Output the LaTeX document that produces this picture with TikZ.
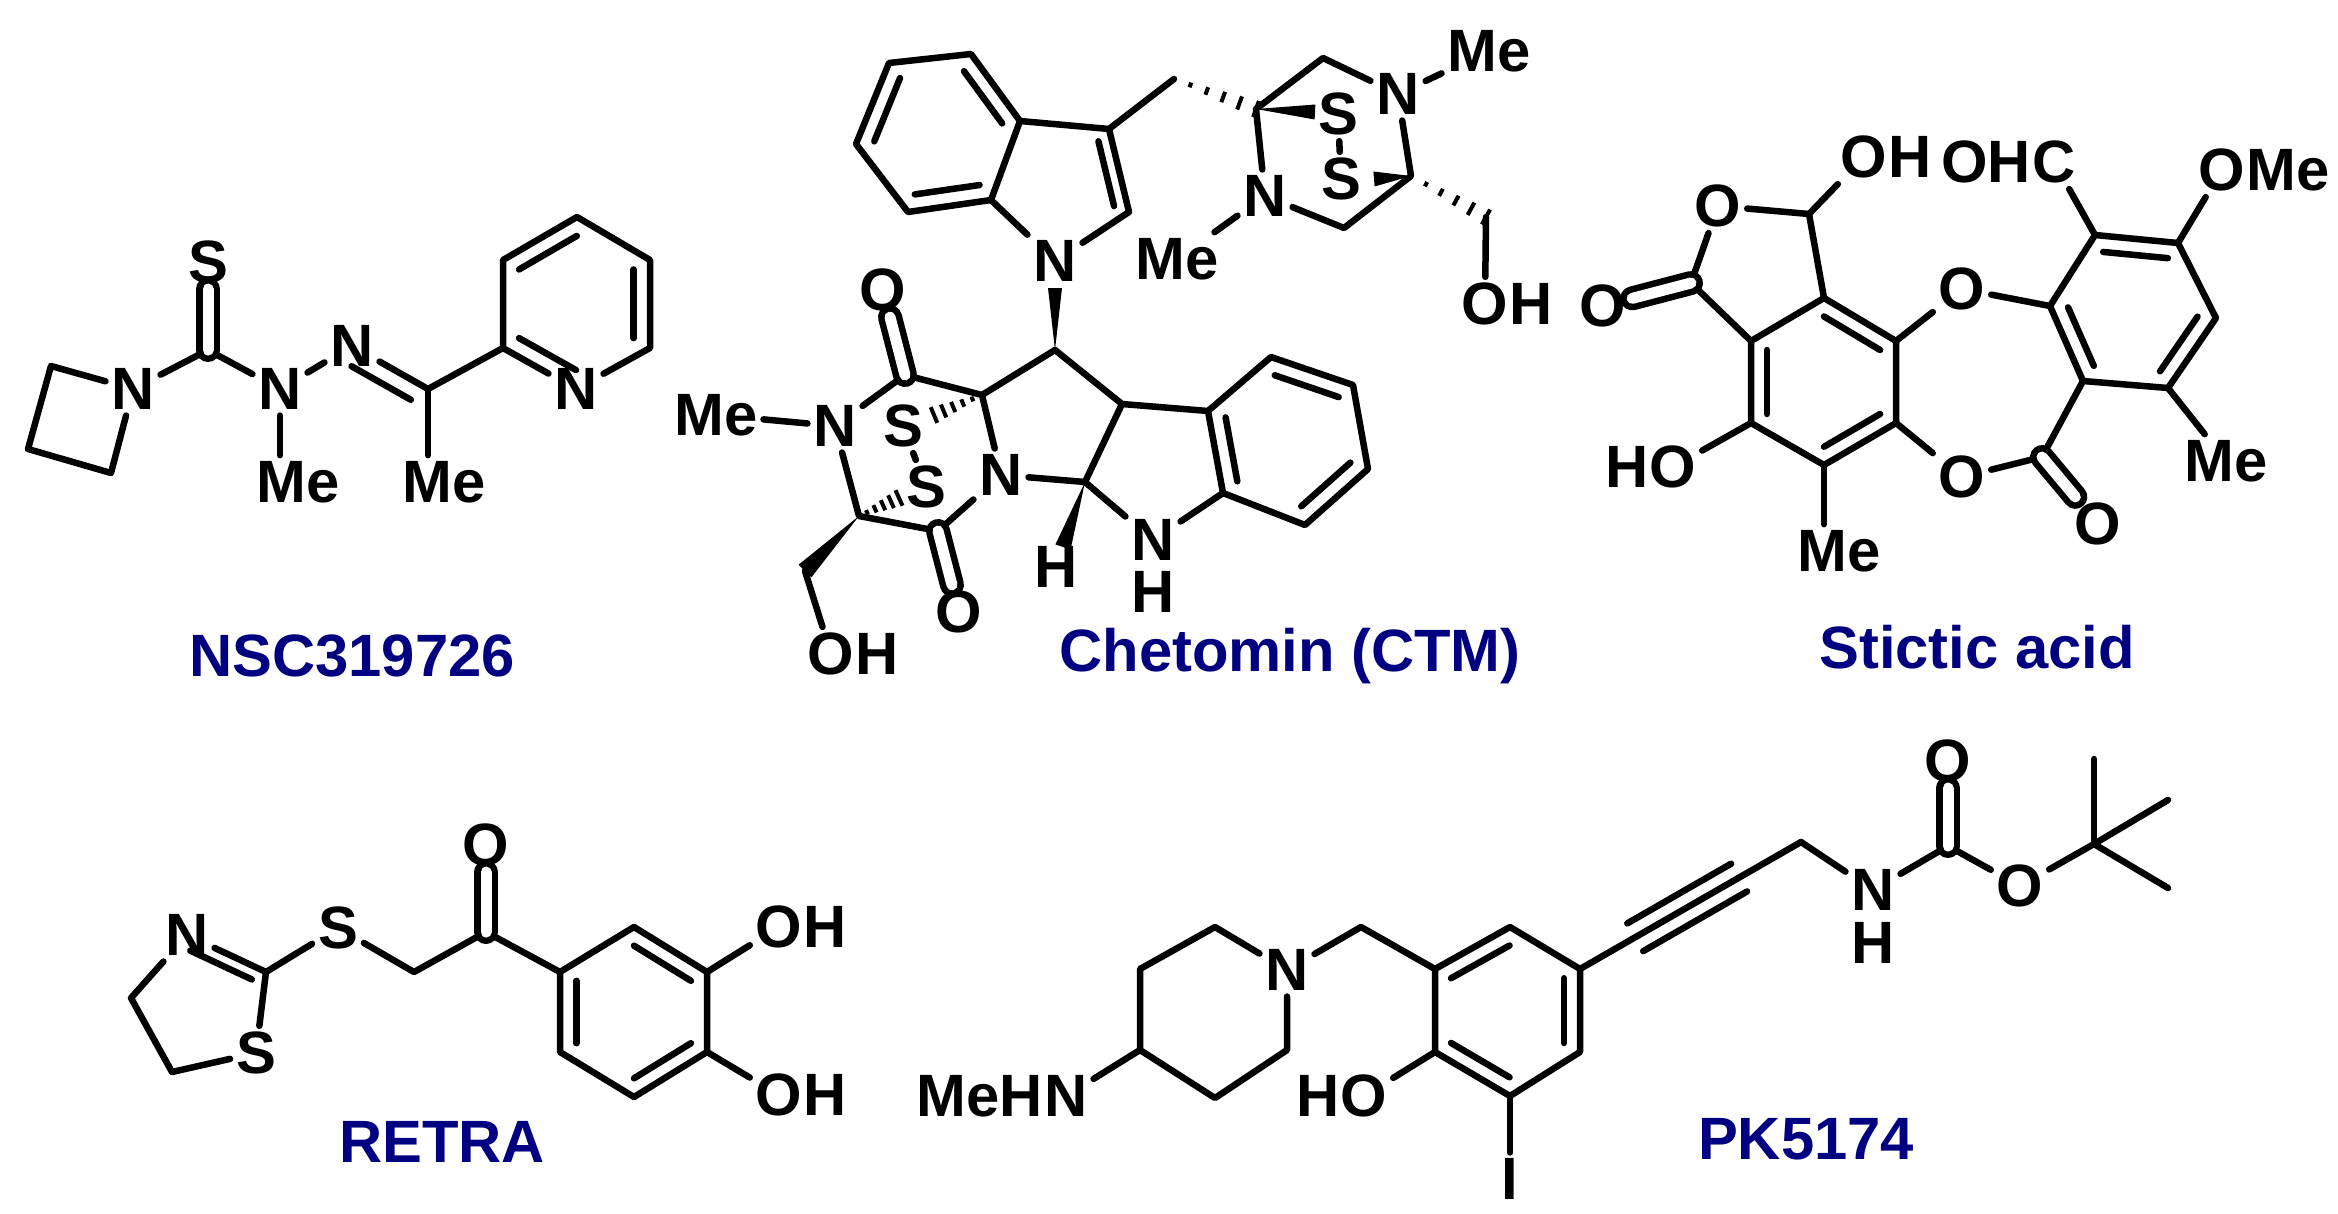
\documentclass[tikz,border=0pt]{standalone}
\usepackage{fontspec}
\setmainfont{Liberation Sans}
\usetikzlibrary{calc}
\definecolor{navy}{RGB}{0,0,128}
\tikzset{
 bond/.style={line width=0.65mm, line cap=round, line join=round},
 dbl/.style={bond, double, double distance=1.1mm},
 atom/.style={font=\fontsize{17}{19}\selectfont\bfseries, inner sep=1.5pt},
 afix/.style={font=\fontsize{17}{19}\selectfont\bfseries, inner sep=0pt},
 cname/.style={font=\fontsize{17}{19}\selectfont\bfseries, text=navy, inner sep=1pt},
}
\newcommand{\ib}[3]{\draw[bond] ($(#3)!0.78!(#1)$) -- ($(#3)!0.78!(#2)$);}
\newcommand{\wdg}[3]{\fill (#1) -- ($(#2)!#3!90:(#1)$) -- ($(#2)!#3!-90:(#1)$) -- cycle;}
\newcommand{\hsh}[2]{\foreach \t/\w in {0.2/0.25,0.4/0.4,0.6/0.55,0.8/0.7,1.0/0.85}{\draw[line width=0.4mm] ($(#1)!\t!(#2)!\w mm!90:(#1)$) -- ($(#1)!\t!(#2)!\w mm!-90:(#1)$);}}
\newcommand{\atsuf}[2]{\node[afix,anchor=base west,xshift=-1.5pt] at (#1.base east) {#2};}
\newcommand{\atpre}[2]{\node[afix,anchor=base east,xshift=1.5pt] at (#1.base west) {#2};}
\begin{document}
\begin{tikzpicture}[x=0.1mm,y=-0.1mm]
\useasboundingbox (0,0) rectangle (2338,1214);
% ---------------- NSC319726
\node[atom] (nz) at (133,389) {N};
\coordinate (z1) at (51,366); \coordinate (z2) at (28,449); \coordinate (z3) at (111,473);
\coordinate (cs) at (208,350); \node[atom] (s) at (208,262) {S};
\node[atom] (n2) at (280,389) {N}; \node[atom] (me2) at (298,482) {Me};
\node[atom] (n3) at (352,346) {N};
\coordinate (ci) at (428,389); \coordinate (hz) at (350,438);
\node[atom] (me3) at (444,482) {Me};
\coordinate (p2) at (503,348); \coordinate (p3) at (503,260); \coordinate (p4) at (577,217);
\coordinate (p5) at (650,260); \coordinate (p6) at (650,348); \node[atom] (pn) at (576,389) {N};
\coordinate (pc) at (576,303);
\draw[bond] (nz) -- (z1) -- (z2) -- (z3) -- (nz);
\draw[bond] (nz) -- (cs) -- (n2);
\draw[dbl] (cs) -- (s);
\draw[bond] (n2) -- (n2 |- me2.north);
\draw[bond] (n2) -- (n3);
\draw[bond] (n3) -- (ci); \ib{n3}{ci}{hz}
\draw[bond] (ci) -- (ci |- me3.north);
\draw[bond] (ci) -- (p2) -- (p3) -- (p4) -- (p5) -- (p6) -- (pn) -- (p2);
\ib{p3}{p4}{pc} \ib{p5}{p6}{pc} \ib{p2}{pn}{pc}
\node[cname] at (352,656) {NSC319726};
% ---------------- Chetomin
\coordinate (b1) at (889,63); \coordinate (b2) at (971,54); \coordinate (b3) at (1020,121);
\coordinate (b4) at (991,200); \coordinate (b5) at (908,212); \coordinate (b6) at (856,144);
\coordinate (bc) at (939,132);
\coordinate (i3) at (1109,129); \coordinate (i2) at (1129,212); \node[atom] (iN) at (1055,261) {N};
\coordinate (ic) at (1061,185);
\coordinate (ch2) at (1174,79); \coordinate (cq) at (1256,109);
\coordinate (ct) at (1323,58); \node[atom] (nt) at (1398,94) {N}; \node[atom] (met) at (1489,51) {Me};
\coordinate (cq2) at (1411,176); \coordinate (cb) at (1344,228);
\node[atom] (nl) at (1265,196) {N}; \node[atom] (mel) at (1177,259) {Me};
\node[atom] (s1) at (1338,114) {S}; \node[atom] (s2) at (1341,179) {S};
\coordinate (ws1) at (1315,112); \coordinate (ws2) at (1374,179);
\coordinate (choh) at (1486,217); \node[atom] (oh1) at (1485,304) {O}; \atsuf{oh1}{H}
\coordinate (ch) at (1055,350); \coordinate (wn) at (1055,288);
\coordinate (cq3) at (982,395); \coordinate (c3b) at (1122,404);
\node[atom] (nm) at (1001,475) {N}; \coordinate (c8a) at (1085,482);
\node[atom] (nh) at (1153,540) {N}; \node[atom] (hnh) at (1153,592) {H};
\node[atom] (h8) at (1056,567) {H}; \coordinate (wh) at (1063,547);
\coordinate (r1) at (1208,411); \coordinate (r2) at (1271,357); \coordinate (r3) at (1353,385);
\coordinate (r4) at (1368,469); \coordinate (r5) at (1305,525); \coordinate (r6) at (1223,493);
\coordinate (rc) at (1288,440);
\coordinate (d1) at (905,375); \node[atom] (o1) at (883,290) {O};
\node[atom] (nd) at (835,426) {N}; \node[atom] (med) at (716,415) {Me};
\coordinate (d2) at (859,516); \coordinate (d3) at (938,531); \node[atom] (o2) at (959,612) {O};
\node[atom] (s3) at (903,426) {S}; \node[atom] (s4) at (926,487) {S};
\coordinate (hs3) at (934,415); \coordinate (hs4) at (899,498);
\coordinate (ch2b) at (805,571); \node[atom] (oh2) at (831,654) {O}; \atsuf{oh2}{H}
\draw[bond] (b1) -- (b2) -- (b3) -- (b4) -- (b5) -- (b6) -- cycle;
\ib{b1}{b6}{bc} \ib{b2}{b3}{bc} \ib{b4}{b5}{bc}
\draw[bond] (b3) -- (i3) -- (i2) -- (iN) -- (b4); \ib{i3}{i2}{ic}
\draw[bond] (i3) -- (ch2); \hsh{ch2}{cq}
\draw[bond] (cq) -- (ct) -- (nt) -- (cq2) -- (cb) -- (nl) -- (cq);
\draw[bond] (nt) -- (met); \draw[bond] (nl) -- (mel);
\wdg{cq}{ws1}{0.75mm} \wdg{cq2}{ws2}{0.75mm}
\draw[bond] (s1) -- (s2);
\hsh{cq2}{choh} \draw[bond] (choh) -- (oh1);
\wdg{ch}{wn}{0.7mm}
\draw[bond] (ch) -- (cq3); \draw[bond] (ch) -- (c3b);
\draw[bond] (cq3) -- (nm) -- (c8a) -- (c3b) -- (r1);
\draw[bond] (r1) -- (r2) -- (r3) -- (r4) -- (r5) -- (r6) -- cycle;
\ib{r2}{r3}{rc} \ib{r4}{r5}{rc} \ib{r6}{r1}{rc}
\draw[bond] (c8a) -- (nh) -- (r6);
\wdg{c8a}{wh}{0.8mm}
\draw[bond] (cq3) -- (d1) -- (nd) -- (d2) -- (d3) -- (nm);
\draw[dbl] (d1) -- (o1); \draw[dbl] (d3) -- (o2);
\draw[bond] (nd) -- (med);
\hsh{cq3}{hs3} \hsh{d2}{hs4}
\draw[bond] (s3) -- (s4);
\wdg{d2}{ch2b}{0.9mm} \draw[bond] (ch2b) -- (oh2);
\node[cname] at (1290,656) {Chetomin (CTM)};
% ---------------- Stictic acid
\coordinate (c1) at (1824,298); \coordinate (c2) at (1896,341); \coordinate (c3) at (1896,423);
\coordinate (c4) at (1824,465); \coordinate (c5) at (1751,423); \coordinate (c6) at (1751,341);
\coordinate (cc) at (1824,382);
\coordinate (lc) at (1691,283); \node[atom] (lo) at (1718,206) {O}; \coordinate (lch) at (1809,214);
\node[atom] (lox) at (1603,306) {O}; \node[atom] (loh) at (1864,157) {O}; \atsuf{loh}{H}
\node[atom] (ho) at (1673,467) {O}; \atpre{ho}{H}
\node[atom] (me1) at (1839,551) {Me};
\node[atom] (oe) at (1962,289) {O}; \node[atom] (oes) at (1962,477) {O};
\coordinate (q1) at (2050,306); \coordinate (q2) at (2095,235); \coordinate (q3) at (2178,243);
\coordinate (q4) at (2216,318); \coordinate (q5) at (2168,388); \coordinate (q6) at (2083,381);
\coordinate (qc) at (2132,312);
\node[atom] (ohc) at (2054,162) {C}; \atpre{ohc}{OH}
\node[atom] (ome) at (2222,170) {O}; \atsuf{ome}{Me}
\node[atom] (me4) at (2226,461) {Me};
\coordinate (ec) at (2042,457); \node[atom] (eo) at (2098,524) {O};
\draw[bond] (c1) -- (c2) -- (c3) -- (c4) -- (c5) -- (c6) -- cycle;
\ib{c1}{c2}{cc} \ib{c3}{c4}{cc} \ib{c5}{c6}{cc}
\draw[bond] (c6) -- (lc) -- (lo) -- (lch) -- (c1);
\draw[dbl] (lc) -- (lox); \draw[bond] (lch) -- (loh);
\draw[bond] (c5) -- (ho); \draw[bond] (c4) -- (c4 |- me1.north);
\draw[bond] (c2) -- (oe) -- (q1);
\draw[bond] (c3) -- (oes) -- (ec) -- (q6); \draw[dbl] (ec) -- (eo);
\draw[bond] (q1) -- (q2) -- (q3) -- (q4) -- (q5) -- (q6) -- cycle;
\ib{q2}{q3}{qc} \ib{q4}{q5}{qc} \ib{q6}{q1}{qc}
\draw[bond] (q2) -- (ohc); \draw[bond] (q3) -- (ome); \draw[bond] (q5) -- (me4);
\node[cname] at (1977,647) {Stictic acid};
% ---------------- RETRA
\node[atom] (tN) at (187,935) {N}; \coordinate (ta) at (131,998); \coordinate (tb) at (172,1072);
\node[atom] (tS) at (256,1053) {S}; \coordinate (t2) at (266,972); \coordinate (tcen) at (202,1006);
\node[atom] (sl) at (338,928) {S}; \coordinate (rch) at (414,972); \coordinate (rco) at (486,932);
\node[atom] (ro) at (486,845) {O};
\coordinate (k1) at (560,972); \coordinate (k2) at (634,927); \coordinate (k3) at (707,972);
\coordinate (k4) at (707,1052); \coordinate (k5) at (634,1097); \coordinate (k6) at (560,1052);
\coordinate (kc) at (634,1012);
\node[atom] (ko1) at (779,927) {O}; \atsuf{ko1}{H}
\node[atom] (ko2) at (779,1095) {O}; \atsuf{ko2}{H}
\draw[bond] (tN) -- (ta) -- (tb) -- (tS) -- (t2) -- (tN); \ib{t2}{tN}{tcen}
\draw[bond] (t2) -- (sl) -- (rch) -- (rco) -- (k1); \draw[dbl] (rco) -- (ro);
\draw[bond] (k1) -- (k2) -- (k3) -- (k4) -- (k5) -- (k6) -- cycle;
\ib{k1}{k6}{kc} \ib{k2}{k3}{kc} \ib{k4}{k5}{kc}
\draw[bond] (k3) -- (ko1); \draw[bond] (k4) -- (ko2);
\node[cname] at (442,1142) {RETRA};
% ---------------- PK5174
\node[atom] (pN) at (1287,970) {N}; \coordinate (pa) at (1215,927); \coordinate (pb) at (1140,969);
\coordinate (pcc) at (1140,1050); \coordinate (pd) at (1215,1098); \coordinate (pe) at (1287,1050);
\node[atom] (mhn) at (1066,1096) {N}; \atpre{mhn}{MeH}
\coordinate (pch) at (1361,927);
\coordinate (a1) at (1435,969); \coordinate (a2) at (1510,927); \coordinate (a3) at (1580,969);
\coordinate (a4) at (1580,1052); \coordinate (a5) at (1510,1096); \coordinate (a6) at (1435,1052);
\coordinate (ac) at (1508,1011);
\node[atom] (pho) at (1364,1096) {O}; \atpre{pho}{H}
\node[atom] (iod) at (1510,1179) {I};
\coordinate (ch2p) at (1801,842);
\coordinate (al1) at ($(a3)!0.25!(ch2p)$); \coordinate (al2) at ($(a3)!0.72!(ch2p)$);
\node[atom] (nhp) at (1873,890) {N}; \node[atom] (hp) at (1873,943) {H};
\coordinate (cbp) at (1948,846); \node[atom] (obp) at (1948,761) {O};
\node[atom] (oep) at (2020,886) {O};
\coordinate (tc) at (2094,844); \coordinate (m1) at (2094,759); \coordinate (m2) at (2168,800); \coordinate (m3) at (2168,888);
\draw[bond] (pN) -- (pa) -- (pb) -- (pcc) -- (pd) -- (pe) -- (pN);
\draw[bond] (pcc) -- (mhn);
\draw[bond] (pN) -- (pch) -- (a1);
\draw[bond] (a1) -- (a2) -- (a3) -- (a4) -- (a5) -- (a6) -- cycle;
\ib{a1}{a2}{ac} \ib{a3}{a4}{ac} \ib{a5}{a6}{ac}
\draw[bond] (a6) -- (pho); \draw[bond] (a5) -- (iod);
\draw[bond] (a3) -- (ch2p);
\draw[bond] ($(al1)!1.6mm!90:(al2)$) -- ($(al2)!1.6mm!-90:(al1)$);
\draw[bond] ($(al1)!1.6mm!-90:(al2)$) -- ($(al2)!1.6mm!90:(al1)$);
\draw[bond] (ch2p) -- (nhp) -- (cbp) -- (oep) -- (tc);
\draw[dbl] (cbp) -- (obp);
\draw[bond] (tc) -- (m1); \draw[bond] (tc) -- (m2); \draw[bond] (tc) -- (m3);
\node[cname] at (1806,1139) {PK5174};
\end{tikzpicture}
\end{document}
